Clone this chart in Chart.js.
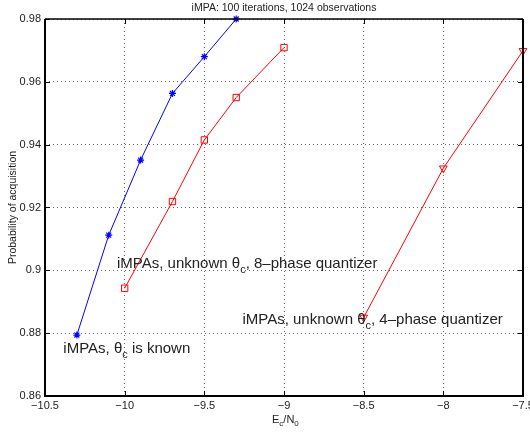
<!DOCTYPE html>
<html>
<head>
<meta charset="utf-8">
<script src="https://cdn.jsdelivr.net/npm/chart.js@4.4.0/dist/chart.umd.min.js"></script>
<style>
  html, body { margin: 0; padding: 0; background: #fff; }
  #wrap { width: 530px; height: 434px; }
</style>
</head>
<body>
<div id="wrap"><canvas id="chart" width="530" height="434"></canvas></div>
<script>
// Data
const knownX = [-10.3, -10.1, -9.9, -9.7, -9.5, -9.3];
const knownY = [0.8794, 0.9112, 0.9351, 0.9563, 0.968, 0.98];
const q8X = [-10.0, -9.7, -9.5, -9.3, -9.0];
const q8Y = [0.8943, 0.9219, 0.9415, 0.955, 0.9709];
const q4X = [-8.5, -8.0, -7.5];
const q4Y = [0.885, 0.9325, 0.9699];

const xTicks = [-10.5, -10, -9.5, -9, -8.5, -8, -7.5];
const yTicks = [0.86, 0.88, 0.9, 0.92, 0.94, 0.96, 0.98];

const FONT = '"Liberation Sans", Arial, sans-serif';

const toPoints = (xs, ys) => xs.map((x, i) => ({ x: x, y: ys[i] }));
const minus = v => String(v).replace('-', '\u2212');

// text labels placed in data coordinates: [before, greek, subscript, after]
const notes = [
  { x: -10.048, y: 0.9007, parts: ['iMPAs, unknown ', '\u03b8', 'c', ', 8\u2013phase quantizer'] },
  { x: -9.261, y: 0.8829, parts: ['iMPAs, unknown ', '\u03b8', 'c', ', 4\u2013phase quantizer'] },
  { x: -10.385, y: 0.8737, parts: ['iMPAs, ', '\u03b8', 'c', ' is known'] }
];

// frame, inward ticks, title, x label and annotations (MATLAB look)
const decorations = {
  id: 'decorations',
  afterDraw(chart) {
    const ctx = chart.ctx;
    const a = chart.chartArea;
    const xs = chart.scales.x, ys = chart.scales.y;
    ctx.save();
    ctx.strokeStyle = '#000';
    ctx.lineWidth = 1;
    ctx.beginPath();
    const len = 5;
    xTicks.forEach(v => {
      const px = Math.round(xs.getPixelForValue(v)) + 0.5;
      ctx.moveTo(px, a.bottom); ctx.lineTo(px, a.bottom - len);
      ctx.moveTo(px, a.top); ctx.lineTo(px, a.top + len);
    });
    yTicks.forEach(v => {
      const py = Math.round(ys.getPixelForValue(v)) + 0.5;
      ctx.moveTo(a.left, py); ctx.lineTo(a.left + len, py);
      ctx.moveTo(a.right, py); ctx.lineTo(a.right - len, py);
    });
    ctx.stroke();
    // box
    ctx.lineWidth = 1.5;
    ctx.beginPath();
    ctx.moveTo(a.left, a.top); ctx.lineTo(a.right, a.top);
    ctx.stroke();
    ctx.lineWidth = 2;
    ctx.beginPath();
    ctx.moveTo(a.left, a.top); ctx.lineTo(a.left, a.bottom);
    ctx.lineTo(a.right, a.bottom); ctx.lineTo(a.right, a.top);
    ctx.stroke();

    ctx.fillStyle = '#222';
    ctx.textBaseline = 'alphabetic';
    // title
    ctx.font = '10.5px ' + FONT;
    ctx.textAlign = 'center';
    ctx.fillText('iMPA: 100 iterations, 1024 observations', (a.left + a.right) / 2, 11);

    // x label E_c/N_0
    ctx.textAlign = 'left';
    let cx = 272, by = 423;
    ctx.font = '11px ' + FONT;
    ctx.fillText('E', cx, by); cx += ctx.measureText('E').width;
    ctx.font = '8px ' + FONT;
    ctx.fillText('c', cx, by + 3); cx += ctx.measureText('c').width;
    ctx.font = '11px ' + FONT;
    ctx.fillText('/N', cx, by); cx += ctx.measureText('/N').width;
    ctx.font = '8px ' + FONT;
    ctx.fillText('0', cx, by + 3);

    // annotations
    notes.forEach(n => {
      let px = xs.getPixelForValue(n.x);
      const py = ys.getPixelForValue(n.y);
      ctx.font = '15px ' + FONT;
      ctx.fillText(n.parts[0], px, py); px += ctx.measureText(n.parts[0]).width;
      ctx.fillText(n.parts[1], px, py); px += ctx.measureText(n.parts[1]).width;
      ctx.font = '11px ' + FONT;
      ctx.fillText(n.parts[2], px, py + 5); px += ctx.measureText(n.parts[2]).width;
      ctx.font = '15px ' + FONT;
      ctx.fillText(n.parts[3], px, py);
    });
    ctx.restore();
  }
};

const ctx = document.getElementById('chart').getContext('2d');
const chart = new Chart(ctx, {
  type: 'scatter',
  data: {
    datasets: [
      {
        label: 'iMPAs, theta_c is known',
        data: toPoints(knownX, knownY),
        showLine: true,
        borderColor: '#0000ff',
        backgroundColor: '#0000ff',
        borderWidth: 1,
        pointStyle: 'star',
        pointRadius: 3.5,
        pointBorderWidth: 1.2
      },
      {
        label: 'iMPAs, unknown theta_c, 8-phase quantizer',
        data: toPoints(q8X, q8Y),
        showLine: true,
        borderColor: '#ff0000',
        backgroundColor: 'rgba(0,0,0,0)',
        borderWidth: 1,
        pointStyle: 'rect',
        pointRadius: 4.5,
        pointBorderWidth: 1
      },
      {
        label: 'iMPAs, unknown theta_c, 4-phase quantizer',
        data: toPoints(q4X, q4Y),
        showLine: true,
        borderColor: '#ff0000',
        backgroundColor: 'rgba(0,0,0,0)',
        borderWidth: 1,
        pointStyle: 'triangle',
        rotation: 180,
        pointRadius: 4.5,
        pointBorderWidth: 1
      }
    ]
  },
  options: {
    responsive: false,
    animation: false,
    clip: false,
    layout: { padding: { left: 0, right: 7, top: 19, bottom: 0 } },
    plugins: {
      legend: { display: false },
      tooltip: { enabled: false }
    },
    scales: {
      x: {
        type: 'linear',
        min: -10.5,
        max: -7.5,
        afterBuildTicks: s => { s.ticks = xTicks.map(v => ({ value: v })); },
        afterFit: s => { s.height = 38; s.paddingLeft = 0; s.paddingRight = 0; },
        grid: { color: '#666', lineWidth: 1, drawTicks: false },
        border: { display: false, dash: [1, 3] },
        ticks: {
          padding: 3,
          color: '#222',
          font: { family: FONT, size: 11 },
          maxRotation: 0,
          callback: v => minus(v)
        }
      },
      y: {
        type: 'linear',
        min: 0.86,
        max: 0.98,
        afterBuildTicks: s => { s.ticks = yTicks.map(v => ({ value: v })); },
        afterFit: s => { s.width = 45; s.paddingTop = 0; s.paddingBottom = 0; },
        grid: { color: '#666', lineWidth: 1, drawTicks: false },
        border: { display: false, dash: [1, 3] },
        title: {
          display: true,
          text: 'Probability of acquisition',
          color: '#222',
          font: { family: FONT, size: 10.5 },
          padding: { top: 7, bottom: 0 }
        },
        ticks: {
          padding: 4,
          color: '#222',
          font: { family: FONT, size: 11 },
          callback: v => String(v)
        }
      }
    }
  },
  plugins: [decorations]
});
</script>
</body>
</html>
